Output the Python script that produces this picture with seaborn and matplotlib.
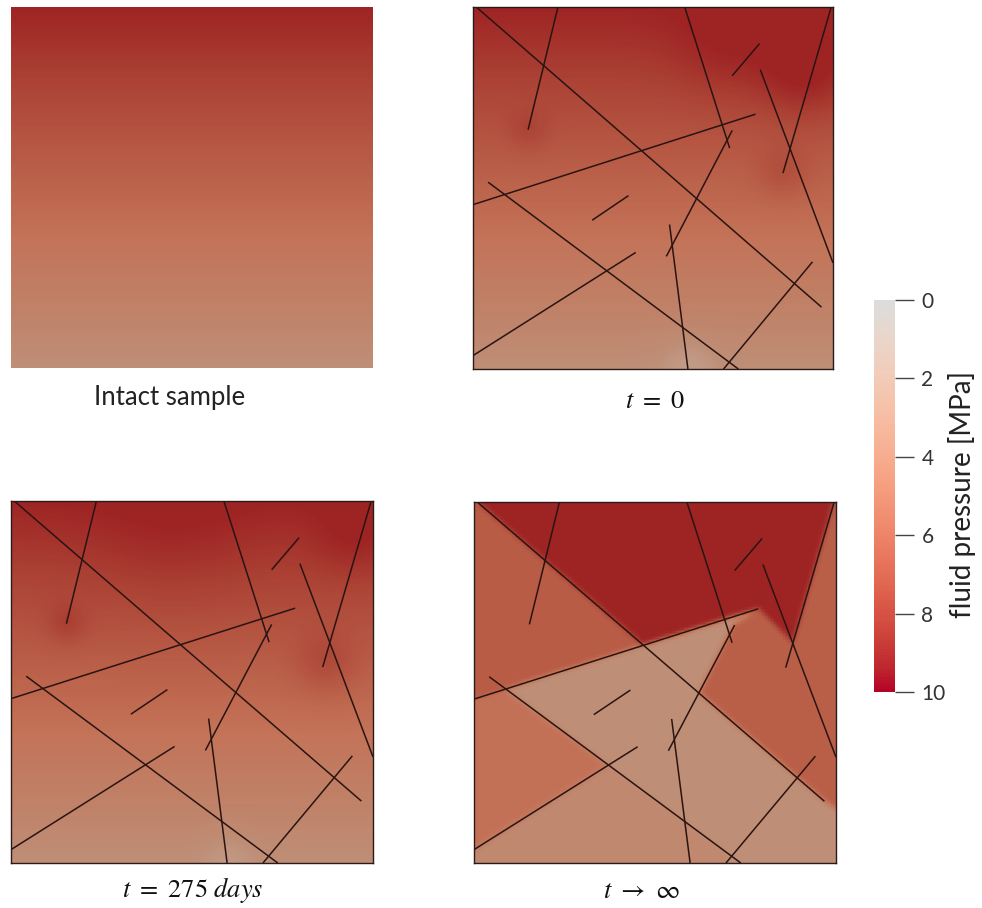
import numpy as np
import matplotlib
matplotlib.use("Agg")
import matplotlib.pyplot as plt
from matplotlib.colors import LinearSegmentedColormap, Normalize, ListedColormap
from matplotlib.path import Path
from matplotlib.cm import ScalarMappable
import seaborn as sns

sns.set_theme(style="white")
plt.rcParams["font.family"] = ["Lato", "DejaVu Sans"]
plt.rcParams["mathtext.fontset"] = "stix"

# ---- fracture network (unit square, u to the right, v upwards) ----
frac_u0 = [0.009, 0.236, 0.588, 0.720, 0.798, 0.995, 0.000, 0.042, 0.331, 0.537, 0.546, 0.000, 0.696]
frac_v0 = [1.000, 1.000, 1.000, 0.810, 0.827, 1.000, 0.454, 0.516, 0.411, 0.311, 0.399, 0.037, 0.000]
frac_u1 = [0.968, 0.153, 0.713, 0.796, 1.000, 0.861, 0.785, 0.737, 0.432, 0.720, 0.597, 0.452, 0.943]
frac_v1 = [0.171, 0.661, 0.610, 0.899, 0.293, 0.541, 0.704, 0.000, 0.479, 0.659, 0.000, 0.322, 0.296]

# ---- pressure levels [MPa] ----
p_top = 10.0
p_bottom = 3.0

# local pressure anomalies around fracture tips (u, v, width, amplitude)
t0_spots_u = [0.92, 0.86, 0.153, 0.60, 0.70]
t0_spots_v = [0.82, 0.54, 0.66, 0.02, 0.88]
t0_spots_s = [0.09, 0.05, 0.04, 0.05, 0.10]
t0_spots_a = [1.6, 1.0, 0.8, -0.8, 0.8]

t275_spots_u = [0.95, 0.87, 0.154, 0.60, 0.45]
t275_spots_v = [0.90, 0.55, 0.66, 0.02, 0.90]
t275_spots_s = [0.08, 0.06, 0.04, 0.05, 0.15]
t275_spots_a = [0.8, 1.2, 1.0, -0.6, 0.5]

# steady state: matrix blocks between connected fractures
block_names = ["upper_left", "right", "left_wedge", "bottom_left", "upper_core"]
block_p = [7.0, 6.8, 5.6, 3.6, 10.0]
block_poly = [
    [(0.0, 1.0), (0.009, 1.0), (0.468, 0.603), (0.0, 0.454)],
    [(0.715, 0.66), (0.621, 0.471), (0.968, 0.171), (1.0, 0.15), (1.0, 1.0),
     (0.995, 1.0), (0.881, 0.608), (0.785, 0.704)],
    [(0.0, 0.454), (0.088, 0.482), (0.371, 0.271), (0.0, 0.037)],
    [(0.0, 0.037), (0.371, 0.271), (0.70, 0.03), (0.70, 0.0), (0.0, 0.0)],
    [(0.009, 1.0), (0.468, 0.603), (0.692, 0.674), (0.785, 0.704),
     (0.881, 0.608), (0.995, 1.0)],
]

# ---- colour maps ----
bar_cmap = ListedColormap(plt.get_cmap("coolwarm")(np.linspace(0.5, 1.0, 256)))
shade_vals = [0.0, 3.0, 4.5, 5.5, 6.5, 8.5, 10.0]
shade_rgb = [(205, 195, 190), (190, 142, 118), (192, 126, 100), (195, 115, 88),
             (188, 100, 76), (172, 68, 54), (158, 36, 36)]
panel_cmap = LinearSegmentedColormap.from_list(
    "shaded_pressure",
    [(v / 10.0, tuple(c / 255 for c in rgb)) for v, rgb in zip(shade_vals, shade_rgb)])

N = 240
uu, vv = np.meshgrid((np.arange(N) + 0.5) / N, 1 - (np.arange(N) + 0.5) / N)


def gradient_field():
    return p_bottom + (p_top - p_bottom) * vv


def spots(field, su, sv, ss, sa):
    out = field.copy()
    for cu, cv, s, a in zip(su, sv, ss, sa):
        out += a * np.exp(-((uu - cu) ** 2 + (vv - cv) ** 2) / (2 * s ** 2))
    return np.clip(out, 0, 10)


def blocks_field():
    field = np.full((N, N), p_bottom)
    pts = np.column_stack([uu.ravel(), vv.ravel()])
    for poly, p in zip(block_poly, block_p):
        mask = Path(poly).contains_points(pts).reshape(N, N)
        field[mask] = p
    # soften the block boundaries slightly
    k = np.exp(-0.5 * (np.arange(-4, 5) / 1.8) ** 2)
    k /= k.sum()
    padded = np.pad(field, 4, mode="edge")
    sm = np.apply_along_axis(lambda r: np.convolve(r, k, mode="valid"), 1, padded)
    sm = np.apply_along_axis(lambda c: np.convolve(c, k, mode="valid"), 0, sm)
    return sm


fields = {
    "intact": gradient_field(),
    "t0": spots(gradient_field(), t0_spots_u, t0_spots_v, t0_spots_s, t0_spots_a),
    "t275": spots(gradient_field(), t275_spots_u, t275_spots_v, t275_spots_s, t275_spots_a),
    "tinf": blocks_field(),
}

W, H = 982, 908
fig = plt.figure(figsize=(W / 100, H / 100), dpi=100)
fig.patch.set_facecolor("white")


def px_axes(x0, y0, x1, y1):
    return fig.add_axes([x0 / W, 1 - y1 / H, (x1 - x0) / W, (y1 - y0) / H])


panels = [
    ("intact", (11, 7, 373, 368), False, "Intact sample", (170, 397), False),
    ("t0", (473, 7, 833, 369), True, r"$t\ =\ 0$", (655, 400), True),
    ("t275", (11, 501, 373, 863), True, r"$t\ =\ 275\ days$", (193, 890), True),
    ("tinf", (474, 502, 836, 863), True, r"$t\ \rightarrow\ \infty$", (641, 890), True),
]

for key, box, fractured, caption, cpos, math in panels:
    ax = px_axes(*box)
    sns.heatmap(fields[key], ax=ax, cmap=panel_cmap, vmin=0, vmax=10, cbar=False,
                xticklabels=False, yticklabels=False, linewidths=0, rasterized=True)
    if fractured:
        for u0, v0, u1, v1 in zip(frac_u0, frac_v0, frac_u1, frac_v1):
            ax.plot([u0 * N, u1 * N], [(1 - v0) * N, (1 - v1) * N],
                    color="#2a1411", lw=1.1, solid_capstyle="butt")
        for sp in ax.spines.values():
            sp.set_visible(True)
            sp.set_color("#2a1a1a")
            sp.set_linewidth(1.0)
    ax.set_xlim(0, N)
    ax.set_ylim(N, 0)
    if math:
        fig.text(cpos[0] / W, 1 - cpos[1] / H, caption, ha="center", va="center",
                 fontsize=19, color="#111111")
    else:
        fig.text(cpos[0] / W, 1 - cpos[1] / H, caption, ha="center", va="center",
                 fontsize=18.5, color="#222222")

# ---- colour bar ----
cax = px_axes(874, 300, 895, 692)
cb = fig.colorbar(ScalarMappable(norm=Normalize(0, 10), cmap=bar_cmap), cax=cax)
cb.outline.set_visible(False)
cax.invert_yaxis()
cb.set_ticks([0, 2, 4, 6, 8, 10])
cax.tick_params(axis="y", length=14, width=1.0, color="#444444", pad=5,
                labelsize=15, labelcolor="#333333", right=True, left=False)
fig.text(962 / W, 1 - 495 / H, "fluid pressure [MPa]", rotation=90,
         ha="center", va="center", fontsize=20, color="#222222")

fig.savefig("out.png", dpi=100, facecolor="white")
